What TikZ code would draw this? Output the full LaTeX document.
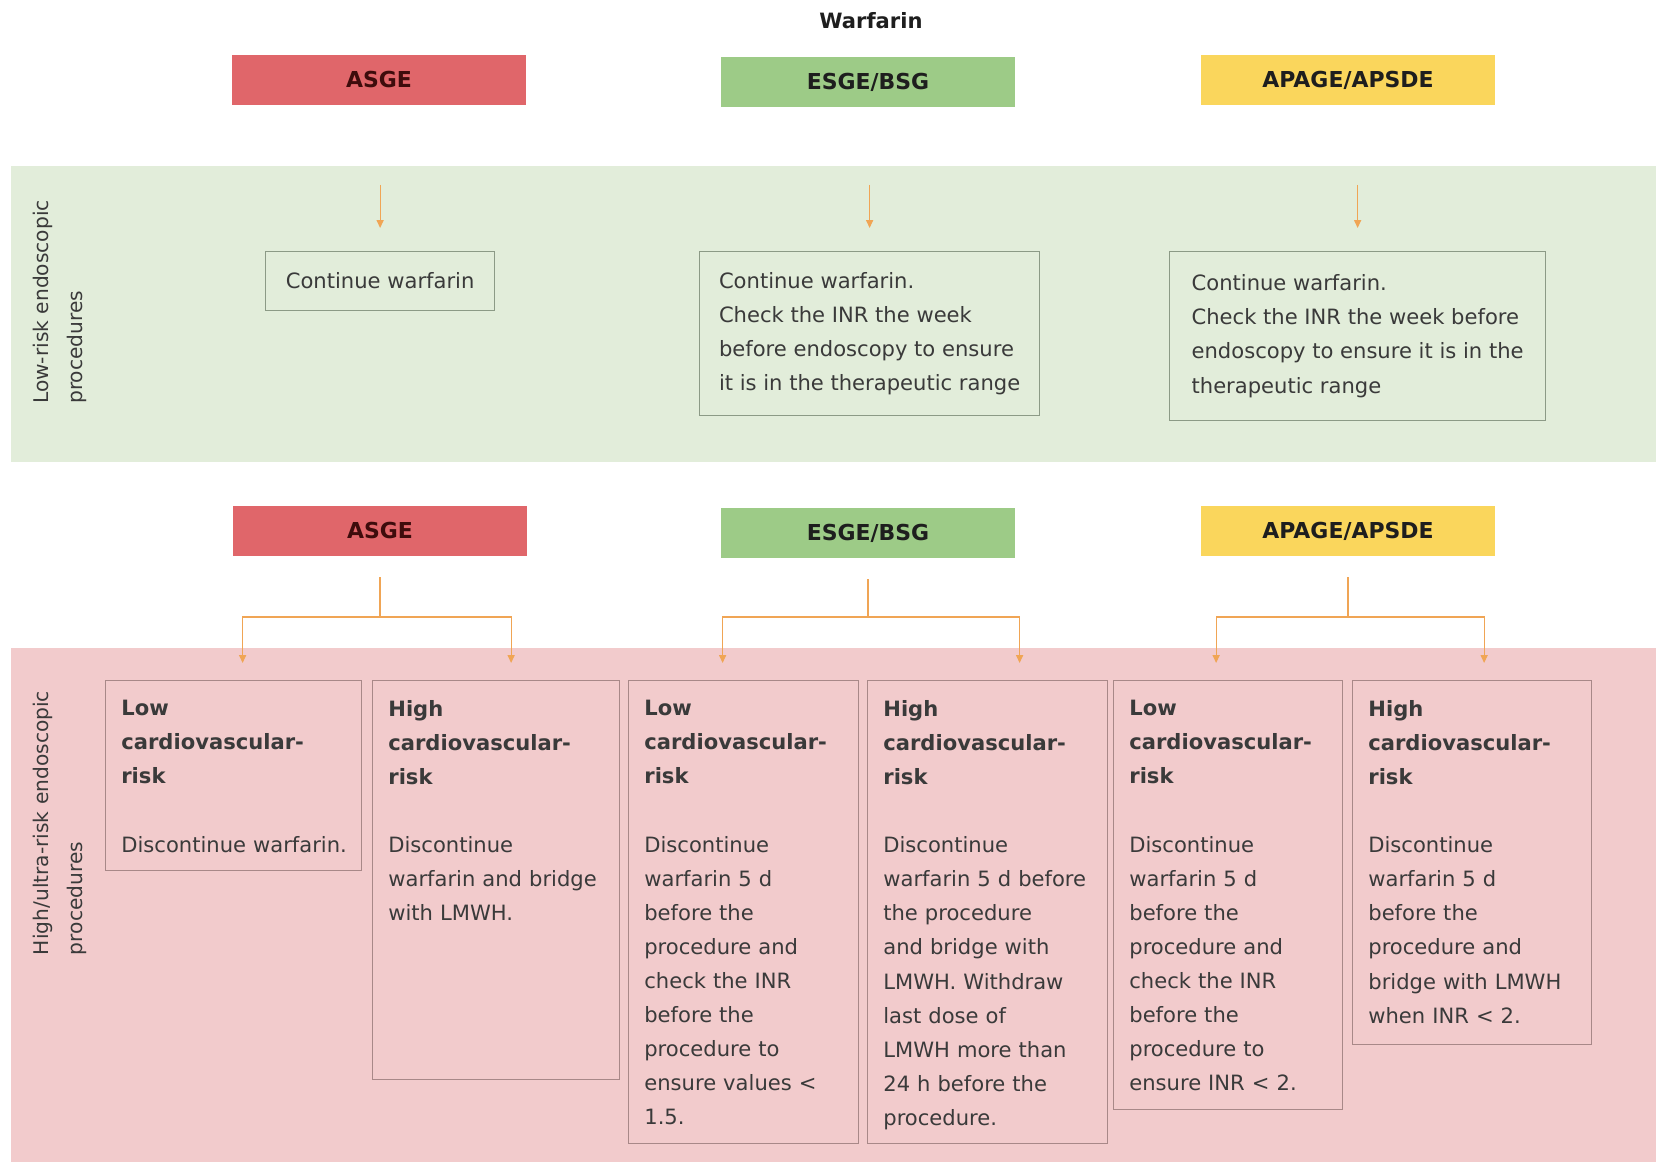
\documentclass[tikz,border=0pt]{standalone}
\usepackage{fontspec}
\setmainfont{DejaVu Sans}
\usetikzlibrary{arrows.meta}

\newlength\pxu
\setlength\pxu{0.02cm}
\newcommand\bodyfont{\fontsize{12}{19.4}\selectfont}

\definecolor{asgered}{RGB}{224,102,106}
\definecolor{esgegreen}{RGB}{157,203,135}
\definecolor{apageyellow}{RGB}{250,214,92}
\definecolor{lowband}{RGB}{226,237,218}
\definecolor{highband}{RGB}{242,203,204}
\definecolor{lowline}{RGB}{140,154,134}
\definecolor{highline}{RGB}{168,136,136}
\definecolor{arrowc}{RGB}{240,165,85}
\definecolor{bodytext}{RGB}{58,58,58}
\definecolor{headtext}{RGB}{30,30,30}
\definecolor{asgetext}{RGB}{62,12,12}

\tikzset{
  orghead/.style={fill=#1, minimum width=294\pxu, minimum height=50\pxu, inner sep=0pt,
    font=\fontsize{12.5}{15}\selectfont\bfseries, text=headtext},
  gbox/.style={draw=lowline, line width=0.7pt, anchor=north west, align=left,
    inner sep=0pt, font=\bodyfont, text=bodytext},
  rbox/.style={draw=highline, line width=0.7pt, anchor=north west, inner sep=0pt},
  rtext/.style={anchor=north west, inner xsep=16\pxu, inner ysep=20\pxu, align=left,
    text width=250\pxu, font=\bodyfont, text=bodytext},
  sidelab/.style={rotate=90, align=left, font=\fontsize{11.5}{19.4}\selectfont, text=bodytext},
  arr/.style={draw=arrowc, line width=0.7pt, -{Triangle[length=4.5pt,width=4pt]}}
}

\begin{document}
\begin{tikzpicture}[x=0.02cm, y=-0.02cm]
\fill[white] (0,0) rectangle (1659,1162);
\useasboundingbox (0,0) rectangle (1659,1162);

% bands
\fill[lowband] (11,166) rectangle (1656,462);
\fill[highband] (11,648) rectangle (1656,1162);

\node[font=\fontsize{12}{14}\selectfont\bfseries, text=headtext] (title) at (871,21) {Warfarin};

% guideline headers
\node[orghead=asgered, text=asgetext] (hA1) at (379,80) {ASGE};
\node[orghead=esgegreen] (hE1) at (868,82) {ESGE/BSG};
\node[orghead=apageyellow] (hP1) at (1348,80) {APAGE/APSDE};
\node[orghead=asgered, text=asgetext] (hA2) at (380,531) {ASGE};
\node[orghead=esgegreen] (hE2) at (868,533) {ESGE/BSG};
\node[orghead=apageyellow] (hP2) at (1348,531) {APAGE/APSDE};

\node[sidelab] (lowlab) at (60,302) {Low-risk endoscopic\\procedures};
\node[sidelab] (highlab) at (60,823) {High/ultra-risk endoscopic\\procedures};

% low risk
\node[gbox, minimum width=229\pxu, minimum height=59\pxu] (gA) at (265,251) {Continue warfarin};
\node[gbox, minimum width=340\pxu, minimum height=164\pxu] (gE) at (699,251)
  {Continue warfarin.\\Check the INR the week\\before endoscopy to ensure\\it is in the therapeutic range};
\node[gbox, minimum width=376\pxu, minimum height=169\pxu] (gP) at (1169,251)
  {Continue warfarin.\\Check the INR the week before\\endoscopy to ensure it is in the\\therapeutic range};

\foreach \g in {gA,gE,gP}
  \draw[arr, shorten >=23\pxu] ([yshift=66\pxu]\g.north) -- (\g.north);

% high risk
\node[rbox, minimum width=256\pxu, minimum height=190\pxu] (lowA) at (105,680) {};
\node[rtext] (lowAtxt) at (lowA.north west)
  {\textbf{Low\\cardiovascular-\\risk}\\[19.4pt]Discontinue warfarin.};
\node[rbox, minimum width=247\pxu, minimum height=399\pxu] (highA) at (372,680) {};
\node[rtext] (highAtxt) at (highA.north west)
  {\textbf{High\\cardiovascular-\\risk}\\[19.4pt]Discontinue\\warfarin and bridge\\with LMWH.};
\node[rbox, minimum width=230\pxu, minimum height=463\pxu] (lowE) at (628,680) {};
\node[rtext] (lowEtxt) at (lowE.north west)
  {\textbf{Low\\cardiovascular-\\risk}\\[19.4pt]Discontinue\\warfarin 5 d\\before the\\procedure and\\check the INR\\before the\\procedure to\\ensure values <\\1.5.};
\node[rbox, minimum width=240\pxu, minimum height=463\pxu] (highE) at (867,680) {};
\node[rtext] (highEtxt) at (highE.north west)
  {\textbf{High\\cardiovascular-\\risk}\\[19.4pt]Discontinue\\warfarin 5 d before\\the procedure\\and bridge with\\LMWH. Withdraw\\last dose of\\LMWH more than\\24 h before the\\procedure.};
\node[rbox, minimum width=229\pxu, minimum height=429\pxu] (lowP) at (1113,680) {};
\node[rtext] (lowPtxt) at (lowP.north west)
  {\textbf{Low\\cardiovascular-\\risk}\\[19.4pt]Discontinue\\warfarin 5 d\\before the\\procedure and\\check the INR\\before the\\procedure to\\ensure INR < 2.};
\node[rbox, minimum width=239\pxu, minimum height=364\pxu] (highP) at (1352,680) {};
\node[rtext] (highPtxt) at (highP.north west)
  {\textbf{High\\cardiovascular-\\risk}\\[19.4pt]Discontinue\\warfarin 5 d\\before the\\procedure and\\bridge with LMWH\\when INR < 2.};

\foreach \h/\l/\r/\dl/\dr in {A/lowA/highA/9/15, E/lowE/highE/-21/32, P/lowP/highP/-12/12} {
  \coordinate (j\h) at (h\h2.south |- 0,617);
  \draw[arr, shorten >=17\pxu] ([yshift=-21\pxu]h\h2.south) -- (j\h) -| ([xshift=\dl\pxu]\l.north);
  \draw[arr, shorten >=17\pxu] (j\h) -| ([xshift=\dr\pxu]\r.north);
}
\end{tikzpicture}
\end{document}
